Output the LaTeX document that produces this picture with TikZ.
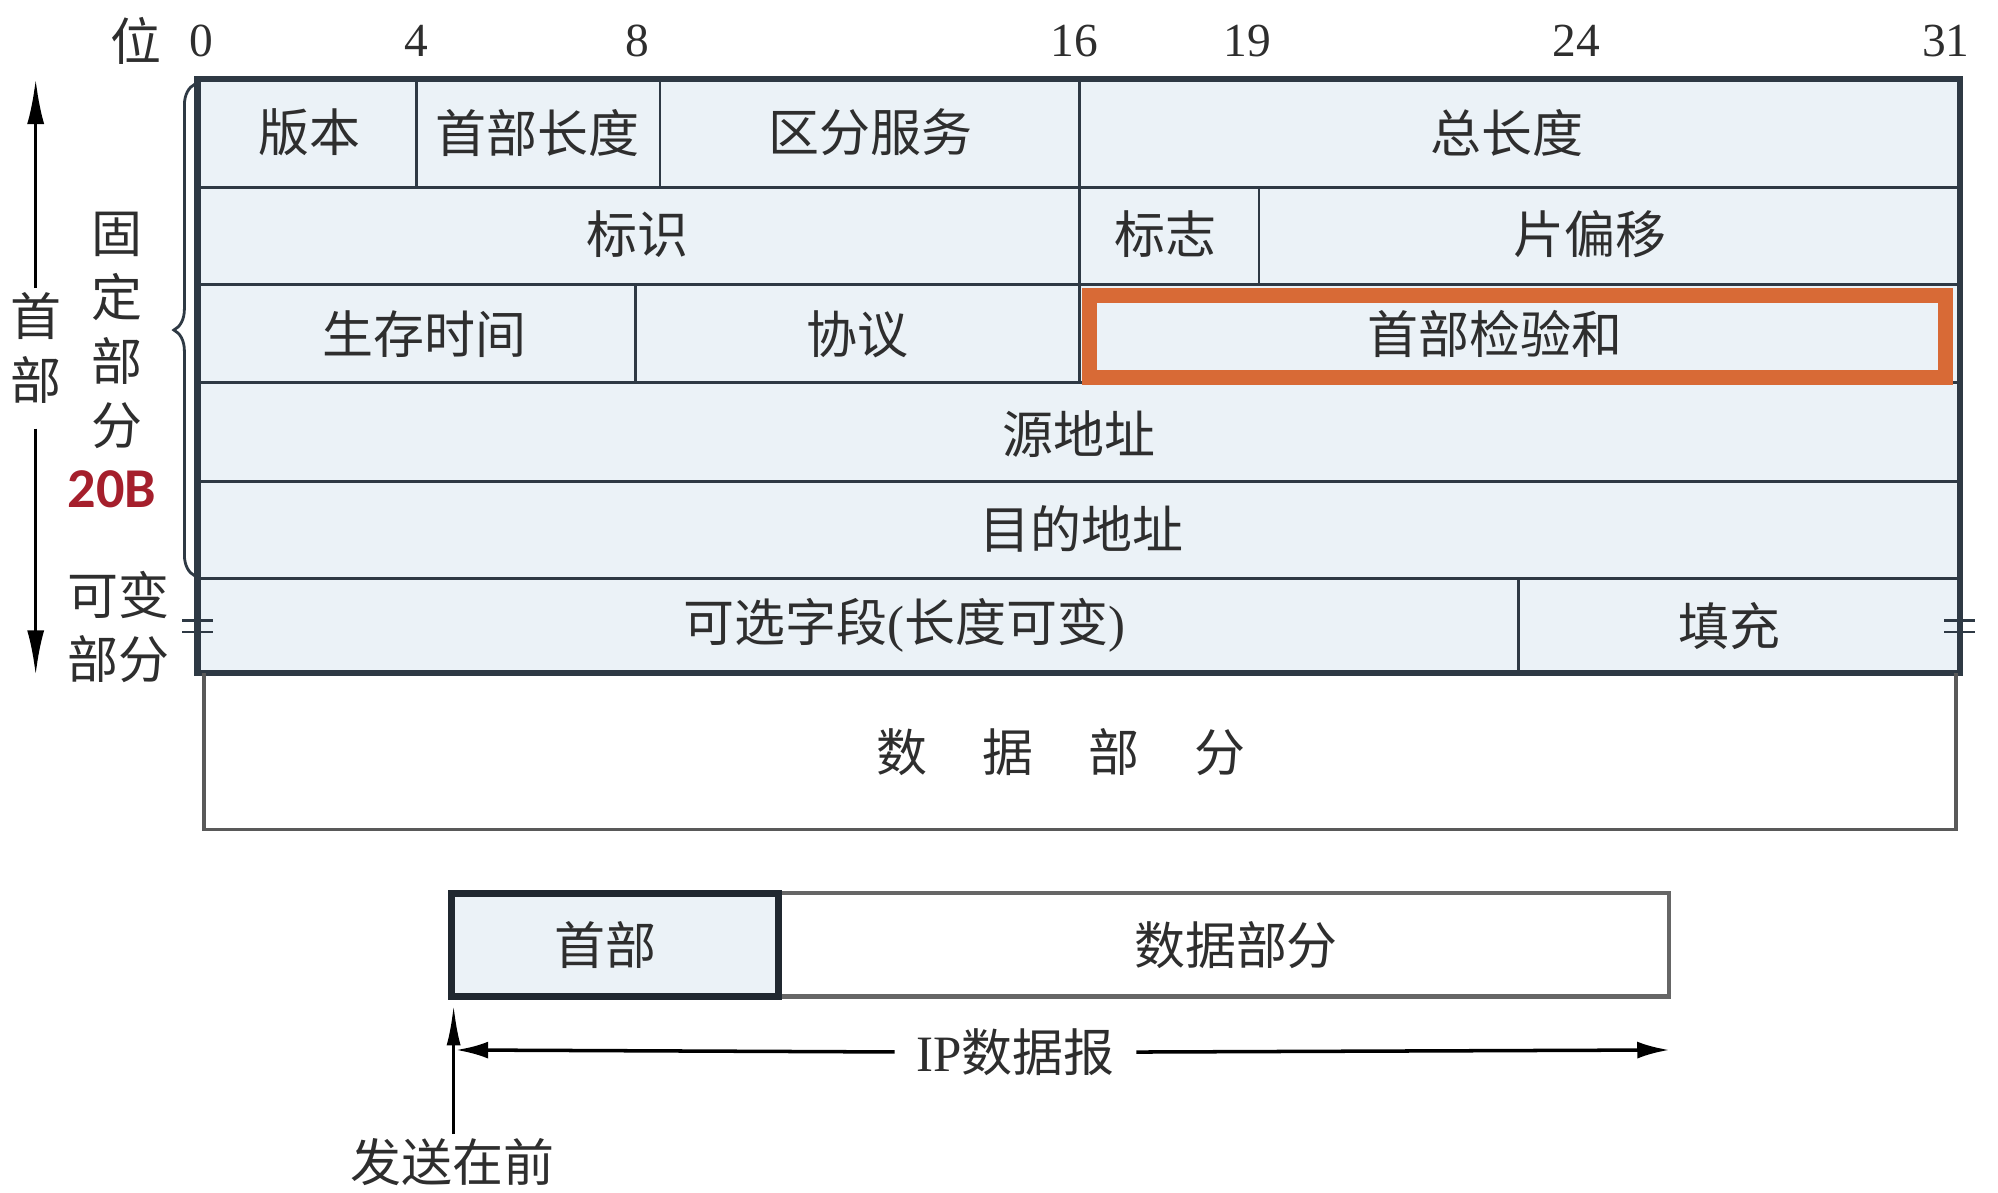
\documentclass[tikz,border=0pt]{standalone}
\usepackage{fontspec}
\setmainfont{Liberation Serif}
\newfontfamily\cjk{Noto Sans CJK SC}
\newfontfamily\lblfont{Carlito}
\usetikzlibrary{arrows.meta,calc,decorations.pathreplacing}
\definecolor{hdrfill}{HTML}{EBF2F7}
\definecolor{gridc}{HTML}{2E3944}
\definecolor{ckorange}{HTML}{D86A36}
\definecolor{darkred}{HTML}{A51F2C}

\begin{document}
\begin{tikzpicture}[x=0.012742cm, y=-0.012742cm,
	every node/.style={font=\cjk\fontsize{14.5}{18.2}\selectfont, text=black!82, inner sep=1pt, align=center},
	bit/.style={font=\rmfamily\fontsize{13.5}{15}\selectfont},
	grid/.style={gridc, line width=0.8pt},
	>={Latex[length=4.5mm, width=1.7mm]}]
	\useasboundingbox (0,0) rectangle (1568,936);
	\fill[hdrfill] (155,62) rectangle (1538,528);
	\foreach \y in {147,223,300,378,454}
		\draw[grid] (155,\y) -- (1538,\y);
	\draw[grid] (327,62) -- (327,147) (518,62) -- (518,147) (847,62) -- (847,300)
		(988,147) -- (988,223) (499,223) -- (499,300) (1192,454) -- (1192,528);
	\draw[ckorange, line width=4.2pt] (855,232) rectangle (1527,296);
	\draw[gridc, line width=1.8pt] (155,62) rectangle (1538,528);
	\foreach \x in {155,1538}
		\draw[grid] (\x-12,487) -- (\x+12,487) (\x-12,496) -- (\x+12,496);
	\draw[black!65, line width=1pt] (160,528) -- (160,651) -- (1535,651) -- (1535,528);
	\draw[gridc, line width=0.8pt, decorate, decoration={brace, amplitude=6pt}] (153,452) -- (153,66);

	\node (wei) at (107,32) {位};
	\foreach \b/\x in {0/158,4/327,8/500,16/843,19/979,24/1237,31/1527}
		\node[bit] (b\b) at (\x,32) {\b};

	\node (ver) at (243,104) {版本};
	\node (ihl) at (422,104) {首部长度};
	\node (ds) at (683,104) {区分服务};
	\node (tlen) at (1183,104) {总长度};
	\node (ident) at (500,184) {标识};
	\node (flags) at (915,184) {标志};
	\node (foff) at (1248,184) {片偏移};
	\node (ttl) at (333,262) {生存时间};
	\node (proto) at (673,262) {协议};
	\node (cksum) at (1173,262) {首部检验和};
	\node (src) at (847,341) {源地址};
	\node (dst) at (849,415) {目的地址};
	\node (opt) at (710,491) {可选字段{\rmfamily(}长度可变{\rmfamily)}};
	\node (pad) at (1357,491) {填充};
	\node (data) at (833,590) {数\hspace{1.08em}据\hspace{1.08em}部\hspace{1.08em}分};

	\node (fixed) at (92,259) {固\\定\\部\\分};
	\node[font=\lblfont\bfseries\fontsize{16}{18}\selectfont, text=darkred] (fix20) at (88,384) {20B};
	\node (var) at (93,492) {可变\\部分};
	\node (hlab) at (28,273) {首\\部};
	\coordinate (htop) at (28,62);
	\coordinate (hbot) at (28,530);
	\draw[->, line width=1pt] (hlab.north) -- (htop);
	\draw[->, line width=1pt] ([yshift=-6pt]hlab.south) -- (hbot);

	\fill[hdrfill] (354,701) rectangle (611,782);
	\draw[black!60, line width=1.2pt] (611,701) rectangle (1310,782);
	\draw[gridc!70!black, line width=2pt] (354,701) rectangle (611,782);
	\node (hd) at (475,742) {首部};
	\node (pl) at (970,742) {数据部分};

	\node[fill=white, inner xsep=6pt] (ip) at (797,826) {{\rmfamily IP}数据报};
	\coordinate (ipl) at (358,824);
	\coordinate (ipr) at (1310,824);
	\draw[->, line width=1pt, >={Latex[length=3.2mm, width=1.7mm]}] (ip) -- (ipl);
	\draw[->, line width=1pt, >={Latex[length=3.2mm, width=1.7mm]}] (ip) -- (ipr);
	\node (send) at (355,912) {发送在前};
	\coordinate (sendtip) at (356,789);
	\draw[->, line width=0.9pt, >={Latex[length=4mm, width=1.4mm]}] (send.north -| sendtip) -- (sendtip);
\end{tikzpicture}
\end{document}
